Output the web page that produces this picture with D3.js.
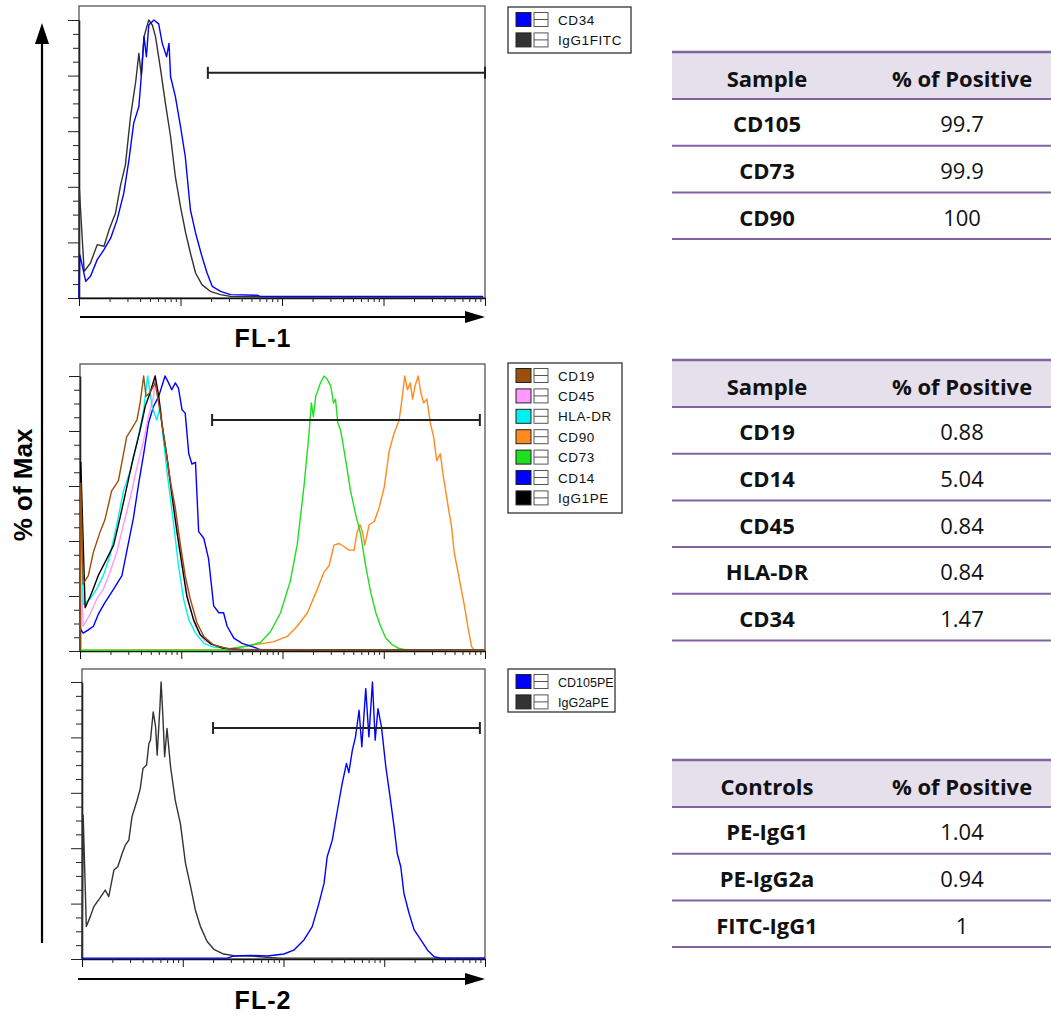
<!DOCTYPE html>
<html>
<head>
<meta charset="utf-8">
<script src="https://cdn.jsdelivr.net/npm/d3@7"></script>
<style>
  body { margin: 0; background: #fff; }
  .big { font-family: "Liberation Sans", Arial, sans-serif; font-weight: bold; fill: #000; }
  .leg { font-family: "Liberation Sans", Arial, sans-serif; font-size: 13.5px; letter-spacing: 0.6px; fill: #111; }
  .tbl { font-family: "Open Sans", sans-serif; font-size: 22px; fill: #111; }
</style>
</head>
<body>
<div id="chart"></div>
<script>
// histogram data: [channel (0-1024, 4-decade log), % of max]
var fl1Cd34 = [[0,0],[2,15.6],[17,6],[29,7.8],[46,13.8],[63,17.4],[80,21.6],[96,28.1],[113,37.7],[126,49.7],[138,62.9],[151,68.9],[159,83.2],[164,94],[170,86.8],[176,98.2],[189,100],[201,98.6],[210,91.6],[221,86.8],[227,91.6],[231,79.6],[243,72.5],[256,61.7],[268,50.9],[281,31.7],[294,23.4],[310,15],[323,9],[336,4.2],[357,2.4],[382,1.2],[449,1.0],[457,0.6],[541,0.6],[1019,0.6]];
var fl1IgG1 = [[0,0],[1,38.9],[13,9.6],[29,12.6],[46,19.2],[63,18.6],[76,24.6],[92,30.5],[105,40.7],[117,47.9],[130,65.3],[143,77.8],[151,88],[157,80],[164,94],[176,100],[185,98.2],[193,94],[206,82],[218,70],[231,58],[243,43.7],[256,32.9],[269,23.4],[281,16.2],[294,9],[310,4.8],[331,2.4],[357,1.2],[382,0.6],[500,0.3],[1020,0.3]];

var fl2Cd19 = [[0,0],[2,61],[8,24.4],[21,27.4],[34,36],[51,43.4],[63,47.7],[80,58.2],[97,61.9],[110,71.7],[118,77.9],[131,80.9],[144,84],[152,90.2],[161,100],[167,92.6],[177,94],[190,97.5],[203,86.5],[215,75.4],[228,61.9],[241,52],[254,38.5],[266,27.4],[279,18.8],[296,10.2],[313,5.3],[338,2.2],[372,0.9],[423,0.4],[1024,0.3]];
var fl2Cd45 = [[0,0],[2,30],[8,9],[25,13.3],[42,18.8],[59,22.5],[76,28.7],[93,36],[110,45.9],[127,55.7],[144,66.8],[161,76.6],[173,85.2],[186,92.6],[190,100],[203,89],[211,77.9],[224,66.8],[237,54.5],[249,41],[262,28.7],[275,17.6],[292,9],[313,4],[346,1.6],[389,0.6],[1024,0.3]];
var fl2HlaDr = [[0,0],[2,62],[8,17],[25,18.8],[42,22.5],[59,27.4],[76,34.8],[93,45.9],[110,58.2],[127,65.6],[144,75.4],[161,87.7],[171,100],[182,89],[194,84],[203,89],[211,76.6],[224,60.6],[237,45.9],[249,31.1],[262,18.8],[275,11.4],[292,6.5],[313,2.8],[338,1.4],[372,0.8],[456,0.4],[1024,0.3]];
var fl2Cd90 = [[0,0.3],[355,0.5],[406,1.4],[456,2.6],[490,3.4],[524,5.3],[549,9],[575,13.9],[600,22.5],[617,28.7],[630,31.1],[642,38.5],[655,39.1],[668,37.9],[680,36.7],[693,36.7],[701,43.4],[708,45.9],[714,43.4],[720,38.5],[731,45.9],[744,47.1],[756,52],[769,59.4],[782,72.9],[794,79.1],[807,84],[815,92.6],[821,100],[828,95],[835,97.5],[841,91.6],[847,96.3],[855,100],[862,93.8],[869,90.2],[877,91.6],[886,82.8],[894,77.9],[902,69.2],[911,71.7],[919,63.1],[930,53.3],[940,44.6],[946,36],[959,26.2],[972,16.4],[982,7.7],[990,1.6],[997,0.3],[1024,0.3]];
var fl2Cd73 = [[0,0.3],[372,0.3],[389,1],[423,1.8],[456,3.1],[482,7.1],[507,13.9],[532,25.6],[549,38.5],[566,59.4],[579,79.1],[585,90.2],[590,85.2],[596,92.6],[608,97.5],[617,100],[625,98.8],[634,96.3],[641,90.2],[646,91.6],[652,82.8],[659,80.3],[672,69.2],[684,58.2],[697,49.6],[710,42.2],[722,31.1],[735,21.3],[748,13.9],[760,9],[773,4.7],[790,2.2],[807,0.9],[828,0.3],[1024,0.3]];
var fl2Cd14 = [[0,0],[1,8],[8,6.5],[21,7.7],[34,9],[46,13.3],[63,17.6],[85,22.5],[106,27.4],[123,39.7],[135,48.3],[148,60.6],[161,71.7],[173,82.8],[186,89],[199,92.6],[207,96.3],[215,100],[224,97.5],[232,95],[241,97.5],[249,95.6],[258,87.7],[266,86.5],[275,71.7],[283,68],[292,68.6],[300,43.4],[313,41],[325,33.6],[338,16.4],[351,13.9],[363,13.9],[372,9],[389,4.7],[410,2.8],[439,1.4],[456,0.5],[1024,0.3]];
var fl2IgG1Pe = [[0,0],[2,68.6],[13,15.7],[30,21.3],[46,27.4],[68,33.6],[85,38.5],[101,48.3],[118,59.4],[135,70.5],[152,80.3],[165,89],[177,93.8],[190,100],[199,92.6],[207,82.8],[220,70.5],[232,57],[245,43.4],[258,31.1],[270,20],[287,11.4],[304,5.9],[330,2.6],[363,1],[414,0.4],[1024,0.3]];

var fl2Cd105Pe = [[0,0.3],[369,0.3],[386,1.1],[428,1.3],[471,1.1],[513,1.8],[538,3.2],[564,6.9],[585,11.7],[602,20.1],[615,27.3],[623,36.9],[636,42.9],[649,53.7],[661,63.3],[672,70.6],[678,67.3],[687,75.4],[695,80.2],[704,89.8],[711,76.6],[721,97.6],[729,80.2],[738,100],[745,79],[752,90.4],[761,83.8],[772,69.4],[784,57.3],[793,47.7],[801,38.1],[810,33.3],[818,23.7],[831,16.5],[844,10.5],[861,6.9],[878,3.2],[895,0.8],[912,0.3],[1024,0.3]];
var fl2IgG2aPe = [[0,0],[3,51.9],[11,11.7],[21,15.3],[30,18.9],[45,21.9],[59,24.9],[68,22.5],[81,32.1],[91,33.3],[102,38.1],[110,41.1],[119,42.9],[127,51.3],[140,57.3],[148,61.5],[155,68.8],[164,70],[170,77.8],[174,79],[181,89.2],[187,83.8],[191,73.6],[198,91],[201,100],[206,86.2],[210,73],[216,83.2],[225,69.4],[237,57.3],[250,48.9],[263,34.5],[276,26.1],[288,17.7],[301,11.7],[318,6.3],[335,3.5],[360,1.8],[386,1.2],[428,1.1],[471,0.6],[505,0.3],[1024,0.3]];

// marker gates: [from channel, to channel, % level]
var fl1Gate = [325, 1024, 81];
var fl2Gate = [334, 1011, 84];
var fl2bGate = [333, 1011, 83.4];

// legends
var fl1Legend = ["CD34", "IgG1FITC"];
var fl2Legend = ["CD19", "CD45", "HLA-DR", "CD90", "CD73", "CD14", "IgG1PE"];
var fl2bLegend = ["CD105PE", "IgG2aPE"];

// tables
var tableHeads1 = ["Sample", "% of Positive"];
var posSamples = ["CD105", "CD73", "CD90"];
var posValues = ["99.7", "99.9", "100"];
var negSamples = ["CD19", "CD14", "CD45", "HLA-DR", "CD34"];
var negValues = ["0.88", "5.04", "0.84", "0.84", "1.47"];
var tableHeads3 = ["Controls", "% of Positive"];
var ctrlSamples = ["PE-IgG1", "PE-IgG2a", "FITC-IgG1"];
var ctrlValues = ["1.04", "0.94", "1"];

var colors = {
  "CD34": "#0000ff", "IgG1FITC": "#333333",
  "CD19": "#9c4f0c", "CD45": "#ff99ff", "HLA-DR": "#00f0f0", "CD90": "#ff8a1e",
  "CD73": "#1fe01f", "CD14": "#0000ff", "IgG1PE": "#000000",
  "CD105PE": "#0000ff", "IgG2aPE": "#333333"
};

var width = 1051, height = 1016;
var svg = d3.select("#chart").append("svg")
    .attr("width", width)
    .attr("height", height);

var panels = [
  { left: 79, right: 485, frameTop: 6, bottom: 298, top: 20, gate: fl1Gate,
    series: [["IgG1FITC", fl1IgG1], ["CD34", fl1Cd34]],
    legend: fl1Legend, legX: 508, legY: 7, legW: 123, legH: 46, legFont: 13.5, legSpacing: 0.6 },
  { left: 80, right: 485, frameTop: 364, bottom: 651, top: 376, gate: fl2Gate,
    series: [["CD90", fl2Cd90], ["CD73", fl2Cd73], ["CD14", fl2Cd14], ["CD45", fl2Cd45],
             ["HLA-DR", fl2HlaDr], ["IgG1PE", fl2IgG1Pe], ["CD19", fl2Cd19]],
    legend: fl2Legend, legX: 508, legY: 363, legW: 114, legH: 150, legFont: 13.5, legSpacing: 0.6 },
  { left: 82, right: 485, frameTop: 669, bottom: 959, top: 682, gate: fl2bGate,
    series: [["IgG2aPE", fl2IgG2aPe], ["CD105PE", fl2Cd105Pe]],
    legend: fl2bLegend, legX: 508, legY: 669, legW: 107, legH: 43, legFont: 12.5, legSpacing: 0 }
];

panels.forEach(drawPanel);

function drawPanel(p) {
    var x = d3.scaleLinear().domain([0, 1024]).range([p.left, p.right]);
    var xLog = d3.scaleLog().domain([1, 10000]).range([p.left, p.right]);
    var y = d3.scaleLinear().domain([0, 100]).range([p.bottom, p.top]);
    var g = svg.append("g");

    g.append("rect")
        .attr("x", p.left).attr("y", p.frameTop)
        .attr("width", p.right - p.left).attr("height", p.bottom - p.frameTop)
        .attr("fill", "none").attr("stroke", "#555").attr("stroke-width", 1.3);

    var yTicks = y.ticks(20);
    g.append("g")
        .attr("transform", "translate(" + p.left + ",0)")
        .attr("color", "#222")
        .call(d3.axisLeft(y).tickValues(yTicks.filter(function(v) { return v % 20 == 0; }))
            .tickSize(11).tickSizeOuter(0).tickFormat(""));
    g.append("g")
        .attr("transform", "translate(" + p.left + ",0)")
        .attr("color", "#222")
        .call(d3.axisLeft(y).tickValues(yTicks.filter(function(v) { return v % 20 != 0; }))
            .tickSize(6).tickSizeOuter(0).tickFormat(""))
        .select(".domain").remove();

    var xTicks = xLog.ticks();
    var isMajor = function(v) { return Math.abs(Math.log10(v) - Math.round(Math.log10(v))) < 1e-9; };
    g.append("g")
        .attr("transform", "translate(0," + p.bottom + ")")
        .attr("color", "#111")
        .call(d3.axisBottom(xLog).tickValues(xTicks.filter(isMajor))
            .tickSize(8).tickSizeOuter(0).tickFormat(""));
    g.append("g")
        .attr("transform", "translate(0," + p.bottom + ")")
        .attr("color", "#222")
        .call(d3.axisBottom(xLog).tickValues(xTicks.filter(function(v) { return !isMajor(v); }))
            .tickSize(4).tickSizeOuter(0).tickFormat(""))
        .select(".domain").remove();
    g.selectAll(".domain").attr("stroke-width", 1.6);

    var line = d3.line()
        .x(function(d) { return x(d[0]); })
        .y(function(d) { return y(d[1]); });

    p.series.forEach(function(s) {
        g.append("path")
            .datum(s[1])
            .attr("d", line)
            .attr("fill", "none")
            .attr("stroke", colors[s[0]])
            .attr("stroke-width", 1.4)
            .attr("stroke-linejoin", "round");
    });

    // marker gate
    var gy = y(p.gate[2]), gx1 = x(p.gate[0]), gx2 = x(p.gate[1]);
    g.append("line").attr("x1", gx1).attr("x2", gx2).attr("y1", gy).attr("y2", gy)
        .attr("stroke", "#222").attr("stroke-width", 2);
    [gx1, gx2].forEach(function(cx) {
        g.append("line").attr("x1", cx).attr("x2", cx).attr("y1", gy - 6).attr("y2", gy + 6)
            .attr("stroke", "#222").attr("stroke-width", 2);
    });

    // legend
    var lg = svg.append("g");
    lg.append("rect").attr("x", p.legX).attr("y", p.legY)
        .attr("width", p.legW).attr("height", p.legH)
        .attr("fill", "#fff").attr("stroke", "#333").attr("stroke-width", 1.3);
    p.legend.forEach(function(name, i) {
        var cy = p.legY + 12.5 + i * 20.4;
        lg.append("rect").attr("x", 516).attr("y", cy - 7).attr("width", 15).attr("height", 14)
            .attr("fill", colors[name]).attr("stroke", "#222").attr("stroke-width", 1);
        lg.append("rect").attr("x", 534).attr("y", cy - 7).attr("width", 14).attr("height", 14)
            .attr("fill", "#fff").attr("stroke", "#555").attr("stroke-width", 1);
        lg.append("line").attr("x1", 534).attr("x2", 548).attr("y1", cy).attr("y2", cy)
            .attr("stroke", "#555").attr("stroke-width", 1);
        lg.append("text").attr("class", "leg").attr("x", 558).attr("y", cy + 5)
            .style("font-size", p.legFont + "px").style("letter-spacing", p.legSpacing + "px")
            .text(name);
    });
}

// x-axis arrows
function hArrow(yy, x1, x2) {
    svg.append("line").attr("x1", x1).attr("x2", x2 - 10).attr("y1", yy).attr("y2", yy)
        .attr("stroke", "#000").attr("stroke-width", 2.2);
    svg.append("path")
        .attr("d", "M" + x2 + "," + yy + "L" + (x2 - 20) + "," + (yy - 6) + "L" + (x2 - 20) + "," + (yy + 6) + "Z")
        .attr("fill", "#000");
}
hArrow(317, 80, 485);
hArrow(979, 78, 485);

// y-axis arrow
svg.append("line").attr("x1", 42).attr("x2", 42).attr("y1", 943).attr("y2", 38)
    .attr("stroke", "#000").attr("stroke-width", 2.2);
svg.append("path").attr("d", "M42,23L35,44L49,44Z").attr("fill", "#000");

svg.append("text").attr("class", "big").attr("x", 263).attr("y", 347)
    .attr("text-anchor", "middle").style("font-size", "25px").style("letter-spacing", "1px").text("FL-1");
svg.append("text").attr("class", "big").attr("x", 263).attr("y", 1009)
    .attr("text-anchor", "middle").style("font-size", "25px").style("letter-spacing", "1px").text("FL-2");
svg.append("text").attr("class", "big")
    .attr("transform", "translate(32,485) rotate(-90)")
    .attr("text-anchor", "middle").style("font-size", "26px").text("% of Max");

// tables
function drawTable(top, heads, names, values) {
    var t = svg.append("g");
    var x0 = 672, x1 = 1051, c1 = 767, c2 = 962;
    var headH = 47, rowH = 46.7;
    t.append("rect").attr("x", x0).attr("y", top).attr("width", x1 - x0).attr("height", headH)
        .attr("fill", "#e5e0ec");
    t.append("text").attr("class", "tbl").attr("x", c1).attr("y", top + headH / 2 + 11)
        .attr("text-anchor", "middle").style("font-weight", "bold").text(heads[0]);
    t.append("text").attr("class", "tbl").attr("x", c2).attr("y", top + headH / 2 + 11)
        .attr("text-anchor", "middle").style("font-weight", "bold").text(heads[1]);
    var lines = [top, top + headH];
    names.forEach(function(n, i) {
        var ry = top + headH + i * rowH;
        t.append("text").attr("class", "tbl").attr("x", c1).attr("y", ry + rowH / 2 + 10)
            .attr("text-anchor", "middle").style("font-weight", "bold").text(n);
        t.append("text").attr("class", "tbl").attr("x", c2).attr("y", ry + rowH / 2 + 10)
            .attr("text-anchor", "middle").text(values[i]);
        lines.push(ry + rowH);
    });
    lines.forEach(function(ly, i) {
        t.append("line").attr("x1", x0).attr("x2", x1).attr("y1", ly).attr("y2", ly)
            .attr("stroke", "#8064a2").attr("stroke-width", i == 0 ? 2.6 : 2);
    });
}
drawTable(52, tableHeads1, posSamples, posValues);
drawTable(360, tableHeads1, negSamples, negValues);
drawTable(760, tableHeads3, ctrlSamples, ctrlValues);
</script>
</body>
</html>
